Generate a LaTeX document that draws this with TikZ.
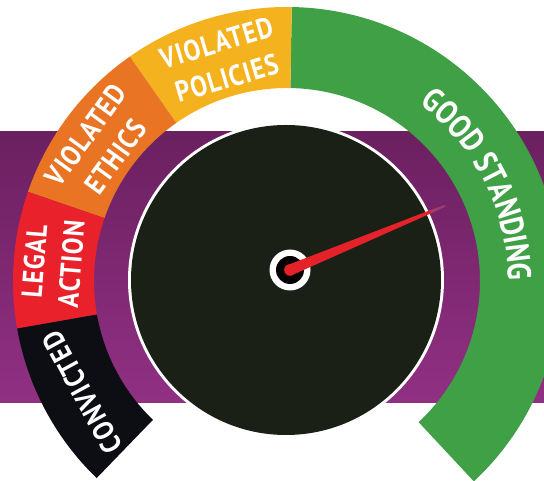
\documentclass[tikz,border=0pt]{standalone}
\usepackage{fontspec}
\newfontfamily\lblfont{PT Sans}[FakeStretch=0.86, LetterSpace=4]
\newfontfamily\arcfont{PT Sans}[FakeStretch=0.84]
\usetikzlibrary{calc,decorations.text}
\definecolor{purpTop}{HTML}{6B2060}
\definecolor{purpBot}{HTML}{913083}
\definecolor{ringGreen}{HTML}{40A046}
\definecolor{ringYellow}{HTML}{F5B21F}
\definecolor{ringOrange}{HTML}{E87424}
\definecolor{ringRed}{HTML}{E9212B}
\definecolor{ringBlack}{HTML}{0D0E14}
\definecolor{dialDark}{HTML}{1A2015}
\definecolor{needleRed}{HTML}{E5222A}
\definecolor{needleFade}{HTML}{B8466E}
\def\gRo{274}
\def\gRi{193}
\newcommand\gaugeseg[3]{%
  \fill[#1] ($(C)+(#2:\gRo)$) arc[start angle=#2, end angle=#3, radius=\gRo]
    -- ($(C)+(#3:\gRi)$) arc[start angle=#3, end angle=#2, radius=\gRi] -- cycle;}
\tikzset{
  lbl/.style={text=white, font=\lblfont\bfseries\fontsize{29}{37}\selectfont,
    align=center, inner sep=0pt},
}
\begin{document}
\begin{tikzpicture}[x=1pt,y=1pt]
\useasboundingbox (0,0) rectangle (544,481);
\clip (0,0) rectangle (544,481);
\fill[white] (0,0) rectangle (544,481);
% purple band
\shade[top color=purpTop, bottom color=purpBot] (0,78) rectangle (544,349);
% gauge centre
\coordinate (C) at (287,200);
\coordinate (D) at (286,201);
\coordinate (H) at (290,211);
% ring segments
\gaugeseg{ringGreen}{89}{-47}
\gaugeseg{ringYellow}{125}{89}
\gaugeseg{ringOrange}{161}{125}
\gaugeseg{ringRed}{190}{161}
\gaugeseg{ringBlack}{226}{190}
% labels
\node[lbl, rotate=16.5] (pol) at ($(C)+(106.5:230)$) {VIOLATED\\POLICIES};
\node[lbl, rotate=54] (eth) at ($(C)+(144:230)$) {VIOLATED\\ETHICS};
\node[lbl, rotate=85.5] (leg) at ($(C)+(175.5:235)$) {LEGAL\\ACTION};
\node[lbl, rotate=118.5] (con) at ($(C)+(208.5:233)$) {CONVICTED};
\path[decorate, decoration={text along path, text align=center,
  text={|\arcfont\bfseries\fontsize{33}{33}\selectfont\color{white}|GOOD STANDING}}]
  ($(C)+(80:221)$) arc[start angle=80, end angle=-26.6, radius=221];
% dial
\fill[white] (D) circle[radius=158];
\fill[dialDark] (D) circle[radius=155];
% hub
\fill[white] (H) circle[radius=20.5];
\fill[black] (H) circle[radius=14];
% needle
\begin{scope}[shift={(H)}, rotate=22.5]
  \fill[needleRed] (0,0) circle[radius=5.8];
  \fill[needleRed] (0,5.5) -- (152,1.6) -- (152,-1.6) -- (0,-5.5) -- cycle;
  \fill[needleFade, opacity=0.7] (152,1.6) -- (168,0.8) -- (168,-0.8) -- (152,-1.6) -- cycle;
\end{scope}
\end{tikzpicture}
\end{document}
